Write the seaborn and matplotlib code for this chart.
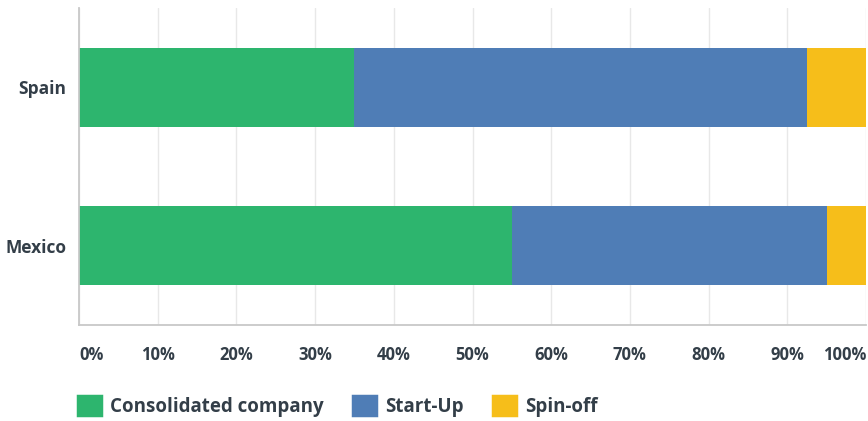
import matplotlib
matplotlib.use("Agg")
import matplotlib.pyplot as plt
from matplotlib.patches import Patch
import pandas as pd
import seaborn as sns

countries = ["Spain", "Mexico"]
consolidated = [35.0, 55.0]
start_up = [57.5, 40.0]
spin_off = [7.5, 5.0]
series_names = ["Consolidated company", "Start-Up", "Spin-off"]
tick_values = [0, 10, 20, 30, 40, 50, 60, 70, 80, 90, 100]
tick_labels = ["0%", "10%", "20%", "30%", "40%", "50%", "60%", "70%", "80%", "90%", "100%"]

colors = {"Consolidated company": "#2db56e", "Start-Up": "#4f7db6", "Spin-off": "#f6be1a"}
text_color = "#333e48"

sns.set_theme(style="white")
plt.rcParams["font.family"] = ["Open Sans", "DejaVu Sans"]

df = pd.DataFrame({"country": countries,
                   "Consolidated company": consolidated,
                   "Start-Up": start_up,
                   "Spin-off": spin_off})
# cumulative right edges for stacking; drawn back-to-front
df["cum1"] = df["Consolidated company"]
df["cum2"] = df["cum1"] + df["Start-Up"]
df["cum3"] = df["cum2"] + df["Spin-off"]

fig = plt.figure(figsize=(8.68, 4.21), dpi=100)
ax = fig.add_axes([79 / 868, 1 - 325 / 421, (866 - 79) / 868, (325 - 8) / 421])

for col, name in [("cum3", "Spin-off"), ("cum2", "Start-Up"), ("cum1", "Consolidated company")]:
    sns.barplot(data=df, x=col, y="country", orient="h", order=countries,
                color=colors[name], saturation=1, width=0.5, ax=ax, linewidth=0)

ax.set_xlim(0, 100)
ax.set_ylim(1.5, -0.5)
ax.set_xlabel("")
ax.set_ylabel("")
ax.set_xticks(tick_values)
ax.set_xticklabels(tick_labels)
ax.grid(axis="x", color="#e8e8e8", linewidth=1)
ax.set_axisbelow(True)
for s in ["top", "right"]:
    ax.spines[s].set_visible(False)
for s in ["left", "bottom"]:
    ax.spines[s].set_color("#c8c8c8")
    ax.spines[s].set_linewidth(1.3)

ax.tick_params(axis="x", length=0, pad=15, labelsize=12, labelcolor=text_color)
ax.tick_params(axis="y", length=0, pad=9, labelsize=12.5, labelcolor=text_color)
for lab in ax.get_xticklabels() + ax.get_yticklabels():
    lab.set_fontweight("bold")
xl = ax.get_xticklabels()
xl[0].set_horizontalalignment("left")
xl[-1].set_horizontalalignment("right")

handles = [Patch(facecolor=colors[n], edgecolor=colors[n], linewidth=2.5,
                 joinstyle="round", label=n) for n in series_names]
leg = fig.legend(handles=handles, loc="lower left", bbox_to_anchor=(78 / 868, 4 / 421),
                 ncol=3, frameon=False, fontsize=13.5, handlelength=1.2,
                 handleheight=1.2, handletextpad=0.48, columnspacing=1.6,
                 borderaxespad=0, borderpad=0)
for t in leg.get_texts():
    t.set_color(text_color)
    t.set_fontweight("bold")

fig.savefig("out.png", dpi=100)
